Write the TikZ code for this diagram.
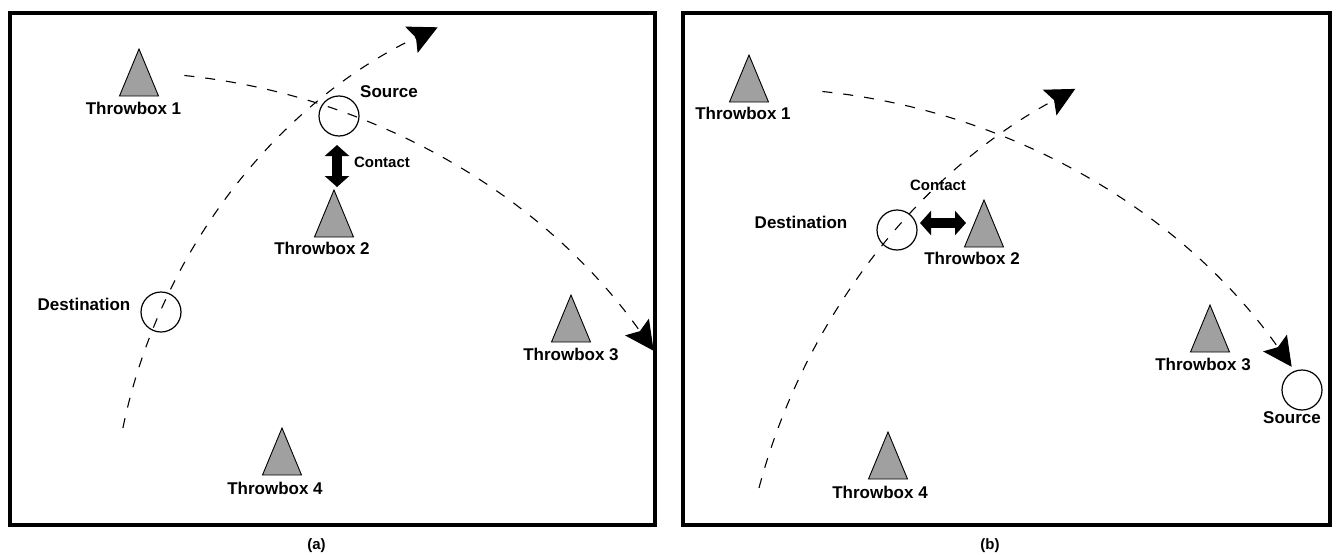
\documentclass[tikz,border=0pt]{standalone}
\usepackage{fontspec}
\setmainfont{Liberation Sans}
\usetikzlibrary{arrows.meta}
\definecolor{tbgray}{RGB}{160,160,160}
\begin{document}
\begin{tikzpicture}[x=1pt,y=1pt,
  frame/.style={draw=black,line width=4.5pt},
  traj/.style={draw=black,line width=1.1pt,dash pattern=on 10pt off 11pt,
    -{Stealth[length=29pt,width=29pt,inset=5pt]}},
  ptnode/.style={circle,draw=black,line width=1.2pt,minimum size=40pt,inner sep=0pt,outer sep=0pt},
  lbl/.style={font=\fontsize{17}{20}\selectfont\bfseries,inner sep=0pt},
  smalltxt/.style={font=\fontsize{15}{18}\selectfont\bfseries,inner sep=0pt},
  captxt/.style={font=\fontsize{15}{18}\selectfont\bfseries,inner sep=0pt},
  contact/.style={draw=black,line width=10pt,{Triangle[length=11pt,width=24pt]}-{Triangle[length=11pt,width=24pt]}},
  throwbox/.pic={\draw[fill=tbgray,line width=0.9pt,line join=miter] (0,0) -- (-19.5,-47) -- (19.5,-47) -- cycle;}
]
\useasboundingbox (0,0) rectangle (1338,-554);
\path[fill=white] (0,0) rectangle (1338,-554);

% ---------- panel (a) ----------
\draw[frame] (10,-13) rectangle (655,-525);
\node[captxt] (capA) at (316.5,-546) {(a)};

\pic at (139,-49) {throwbox}; \coordinate (tbA1) at (139,-49);
\pic at (334,-190) {throwbox}; \coordinate (tbA2) at (334,-190);
\pic at (571,-295) {throwbox}; \coordinate (tbA3) at (571,-295);
\pic at (282,-428) {throwbox}; \coordinate (tbA4) at (282,-428);
\node[lbl] (ltA1) at (133.5,-108) {Throwbox 1};
\node[lbl] (ltA2) at (322,-248) {Throwbox 2};
\node[lbl] (ltA3) at (571,-354) {Throwbox 3};
\node[lbl] (ltA4) at (275,-488) {Throwbox 4};

\node[ptnode] (srcA) at (339,-116) {};
\node[ptnode] (dstA) at (161,-312) {};
\node[lbl] (lsrcA) at (389,-92) {Source};
\node[lbl] (ldstA) at (84,-304) {Destination};
\node[smalltxt] (lconA) at (382,-162) {Contact};

\draw[traj] (122.9,-428) arc[start angle=168.3,end angle=115.4,radius=572pt];
\draw[traj] (184.4,-75.5) arc[start angle=84.1,end angle=35.1,radius=656pt];

\draw[contact] ([xshift=-2pt,yshift=-9pt]srcA.south) -- ([xshift=3pt,yshift=3pt]tbA2);

% ---------- panel (b) ----------
\draw[frame] (683,-13) rectangle (1330,-525);
\node[captxt] (capB) at (990,-546) {(b)};

\pic at (749,-55) {throwbox}; \coordinate (tbB1) at (749,-55);
\pic at (984,-200) {throwbox}; \coordinate (tbB2) at (984,-200);
\pic at (1210,-305) {throwbox}; \coordinate (tbB3) at (1210,-305);
\pic at (888,-432) {throwbox}; \coordinate (tbB4) at (888,-432);
\node[lbl] (ltB1) at (743,-113) {Throwbox 1};
\node[lbl] (ltB2) at (972,-258) {Throwbox 2};
\node[lbl] (ltB3) at (1203,-364) {Throwbox 3};
\node[lbl] (ltB4) at (880,-492) {Throwbox 4};

\node[ptnode] (dstB) at (897,-230) {};
\node[ptnode] (srcB) at (1302,-390) {};
\node[lbl] (ldstB) at (801,-222) {Destination};
\node[lbl] (lsrcB) at (1292,-418) {Source};
\node[smalltxt] (lconB) at (938,-185) {Contact};

\draw[traj] (759,-487.9) arc[start angle=165.1,end angle=118.1,radius=638.4pt];
\draw[traj] (822.4,-91.5) arc[start angle=84.1,end angle=35.1,radius=656pt];

\draw[contact] ([xshift=3pt,yshift=7pt]dstB.east) -- ([xshift=-18pt,yshift=-23pt]tbB2);
\end{tikzpicture}
\end{document}
